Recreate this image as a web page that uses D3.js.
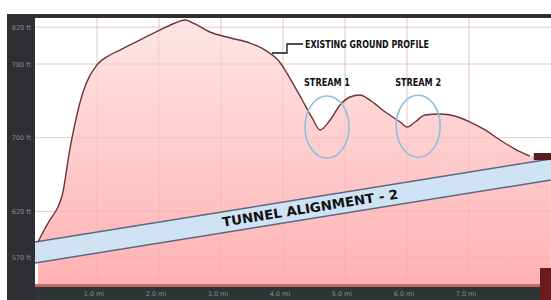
<!DOCTYPE html>
<html><head><meta charset="utf-8">
<script src="https://cdn.jsdelivr.net/npm/d3@7"></script>
<style>body{margin:0;background:#fff}svg{display:block}</style>
</head><body>
<script>
// ---- data ----
const xTickValues = [1, 2, 3, 4, 5, 6, 7];
const xTickLabels = ["1.0 mi", "2.0 mi", "3.0 mi", "4.0 mi", "5.0 mi", "6.0 mi", "7.0 mi"];
const yTickValues = [820, 780, 700, 620, 570];
const yTickLabels = ["820 ft", "780 ft", "700 ft", "620 ft", "570 ft"];
const profileMiles = [0.05,0.08,0.24,0.37,0.44,0.56,0.77,1.0,1.21,1.37,1.69,2.02,2.26,2.42,2.58,2.82,3.15,3.47,3.71,3.92,4.11,4.31,4.47,4.60,4.76,4.92,5.08,5.24,5.40,5.65,5.89,6.0,6.13,6.29,6.53,6.77,7.02,7.26,7.5,7.74,7.98,8.32];
const profileFeet  = [586.7,591,610.6,624.7,637.8,686.6,748.5,779,789.8,795.2,806.1,817,824.6,827.8,823.5,814.8,808.3,802.8,795.2,784.4,764.8,740.9,721.4,708.4,719.2,735.5,744.2,746.4,740.9,727.9,717.0,711.6,717.0,724.6,725.7,723.6,717.0,708.4,697.5,687.7,680.1,679.0];
const tunnelMiles = [0, 8.32];
const tunnelTopFeet = [586.7, 676.9];
const tunnelBottomFeet = [563.9, 654.0];
const streamNames = ["STREAM 1", "STREAM 2"];
const streamMiles = [4.71, 6.18];
const streamFeet = [711.6, 712.5];

// ---- layout ----
const W = 551, H = 300;
const L = 35, R = 551, T = 18, B = 285;
const svg = d3.select("body").append("svg").attr("width", W).attr("height", H);
const x = d3.scaleLinear().domain([0, (R - L) / 62]).range([L, R]);
const y = d3.scaleLinear().domain([540, 830]).range([B, T]);

const defs = svg.append("defs");
const g = defs.append("linearGradient").attr("id","pinkg").attr("x1",0).attr("y1",0).attr("x2",0).attr("y2",1);
g.append("stop").attr("offset","0%").attr("stop-color","#fde6e6");
g.append("stop").attr("offset","100%").attr("stop-color","#ffb2b2");
defs.append("clipPath").attr("id","plotclip").append("rect").attr("x",L).attr("y",T).attr("width",R-L).attr("height",B-T);

// frame
svg.append("rect").attr("x",7).attr("y",14).attr("width",W-7).attr("height",4).attr("fill","#2e2e31");
svg.append("rect").attr("x",7).attr("y",14).attr("width",L-7).attr("height",H-14).attr("fill","#2f2f33");
svg.append("rect").attr("x",L).attr("y",B+2).attr("width",R-L).attr("height",H-B-2).attr("fill","#2c3434");
svg.append("rect").attr("x",L).attr("y",T).attr("width",R-L).attr("height",B-T).attr("fill","#ffffff");

const plot = svg.append("g").attr("clip-path","url(#plotclip)");

// grid
plot.selectAll("line.vg").data(xTickValues).join("line").attr("class","vg")
  .attr("x1",d=>x(d)).attr("x2",d=>x(d)).attr("y1",T).attr("y2",B)
  .attr("stroke","#e2dede").attr("stroke-width",1);
plot.selectAll("line.hg").data(yTickValues).join("line").attr("class","hg")
  .attr("x1",L).attr("x2",R).attr("y1",d=>y(d)).attr("y2",d=>y(d))
  .attr("stroke","#f0dada").attr("stroke-width",1);

// ground area
const pts = profileMiles.map((m,i)=>[m, profileFeet[i]]);
const area = d3.area().x(d=>x(d[0])).y0(B).y1(d=>y(d[1])).curve(d3.curveMonotoneX);
plot.append("path").datum(pts).attr("d",area).attr("fill","url(#pinkg)");
plot.selectAll("line.vg2").data(xTickValues).join("line").attr("class","vg2")
  .attr("x1",d=>x(d)).attr("x2",d=>x(d)).attr("y1",T).attr("y2",B)
  .attr("stroke","#e8a0a0").attr("stroke-opacity",0.3).attr("stroke-width",1);
plot.selectAll("line.hg2").data(yTickValues).join("line").attr("class","hg2")
  .attr("x1",L).attr("x2",R).attr("y1",d=>y(d)).attr("y2",d=>y(d))
  .attr("stroke","#e8a0a0").attr("stroke-opacity",0.25).attr("stroke-width",1);

// tunnel band
const tun = tunnelMiles.map((m,i)=>({m, t:tunnelTopFeet[i], b:tunnelBottomFeet[i]}));
plot.append("path").datum(tun)
  .attr("d", d3.area().x(d=>x(d.m)).y0(d=>y(d.b)).y1(d=>y(d.t)))
  .attr("fill","#cfe3f4");
plot.append("path").datum(tun).attr("d", d3.line().x(d=>x(d.m)).y(d=>y(d.t)))
  .attr("fill","none").attr("stroke","#5d6682").attr("stroke-width",1.5);
plot.append("path").datum(tun).attr("d", d3.line().x(d=>x(d.m)).y(d=>y(d.b)))
  .attr("fill","none").attr("stroke","#5d6682").attr("stroke-width",1.5);

// profile line
plot.append("path").datum(pts.slice(0, -1))
  .attr("d", d3.line().x(d=>x(d[0])).y(d=>y(d[1])).curve(d3.curveMonotoneX))
  .attr("fill","none").attr("stroke","#6e3535").attr("stroke-width",1.4);

// bottom border line of plot
svg.append("rect").attr("x",L).attr("y",B-1).attr("width",R-L).attr("height",3).attr("fill","#c46a6a");

// right end markers
const endM = profileMiles[profileMiles.length-2], endF = profileFeet[profileFeet.length-2];
svg.append("rect").attr("x",x(endM)+4).attr("y",y(endF)-3).attr("width",R-x(endM)-4).attr("height",7).attr("fill","#5a1e1e");
svg.append("rect").attr("x",540).attr("y",268).attr("width",11).attr("height",32).attr("fill","#6a1c1c");

// stream circles
plot.selectAll("ellipse.st").data(streamMiles).join("ellipse").attr("class","st")
  .attr("cx",d=>x(d)).attr("cy",(d,i)=>y(streamFeet[i]))
  .attr("rx",22).attr("ry",31)
  .attr("fill","none").attr("stroke","#8cc0e0").attr("stroke-width",1.6);

const FONT = "'DejaVu Sans Condensed','DejaVu Sans',sans-serif";
svg.selectAll("text.sn").data(streamNames).join("text").attr("class","sn")
  .attr("x",(d,i)=>x(streamMiles[i])).attr("y",86)
  .attr("text-anchor","middle").attr("font-family",FONT).attr("font-weight","bold")
  .attr("font-stretch","condensed")
  .attr("font-size",11).attr("fill","#111").attr("textLength",46).attr("lengthAdjust","spacingAndGlyphs")
  .text(d=>d);

// existing ground profile annotation
svg.append("path").attr("d","M272,53 L287,53 L287,44 L303,44")
  .attr("fill","none").attr("stroke","#111").attr("stroke-width",1.3);
svg.append("text").attr("x",305).attr("y",48).attr("font-family",FONT).attr("font-weight","bold")
  .attr("font-stretch","condensed")
  .attr("font-size",11).attr("fill","#111").attr("textLength",124).attr("lengthAdjust","spacingAndGlyphs")
  .text("EXISTING GROUND PROFILE");

// tunnel label
const midM = 4.45;
const tmid = (tunnelTopFeet[0] + (tunnelTopFeet[1]-tunnelTopFeet[0])*midM/tunnelMiles[1] + tunnelBottomFeet[0] + (tunnelBottomFeet[1]-tunnelBottomFeet[0])*midM/tunnelMiles[1]) / 2;
const ang = Math.atan2(y(tunnelTopFeet[1]) - y(tunnelTopFeet[0]), x(tunnelMiles[1]) - x(tunnelMiles[0])) * 180 / Math.PI;
svg.append("text").attr("transform",`translate(${x(midM)},${y(tmid)+4.5}) rotate(${ang})`)
  .attr("text-anchor","middle").attr("font-family",FONT).attr("font-weight","bold")
  .attr("font-stretch","condensed")
  .attr("font-size",13).attr("fill","#111").attr("textLength",178).attr("lengthAdjust","spacingAndGlyphs")
  .text("TUNNEL ALIGNMENT - 2");

// axes labels
svg.selectAll("text.yt").data(yTickValues).join("text").attr("class","yt")
  .attr("x",31).attr("y",d=>y(d)+2.5).attr("text-anchor","end")
  .attr("font-family","DejaVu Sans, sans-serif").attr("font-size",6.5).attr("fill","#8d8890")
  .text((d,i)=>yTickLabels[i]);
svg.selectAll("text.xt").data(xTickValues).join("text").attr("class","xt")
  .attr("x",d=>x(d)-3).attr("y",296).attr("text-anchor","middle")
  .attr("font-family","DejaVu Sans, sans-serif").attr("font-size",6.5).attr("fill","#7f9090")
  .text((d,i)=>xTickLabels[i]);
</script>
</body></html>
